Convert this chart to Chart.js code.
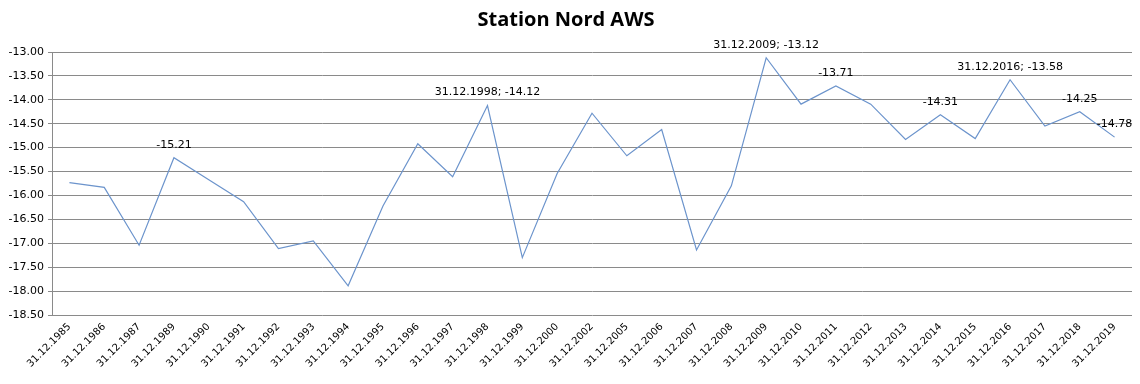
<!DOCTYPE html>
<html>
<head>
<meta charset="utf-8">
<script src="https://cdn.jsdelivr.net/npm/chart.js@4"></script>
<style>
  html, body { margin: 0; padding: 0; background: #fff; }
  #wrap { width: 1140px; height: 384px; }
</style>
</head>
<body>
<div id="wrap"><canvas id="stationChart" width="1140" height="384"></canvas></div>
<script>
const dates = ['31.12.1985', '31.12.1986', '31.12.1987', '31.12.1989', '31.12.1990', '31.12.1991',
  '31.12.1992', '31.12.1993', '31.12.1994', '31.12.1995', '31.12.1996', '31.12.1997', '31.12.1998',
  '31.12.1999', '31.12.2000', '31.12.2002', '31.12.2005', '31.12.2006', '31.12.2007', '31.12.2008',
  '31.12.2009', '31.12.2010', '31.12.2011', '31.12.2012', '31.12.2013', '31.12.2014', '31.12.2015',
  '31.12.2016', '31.12.2017', '31.12.2018', '31.12.2019'];

const temps = [-15.73, -15.83, -17.04, -15.21, -15.67, -16.13,
  -17.11, -16.95, -17.89, -16.22, -14.92, -15.61, -14.12,
  -17.30, -15.54, -14.28, -15.17, -14.62, -17.14, -15.80,
  -13.12, -14.09, -13.71, -14.09, -14.83, -14.31, -14.81,
  -13.58, -14.55, -14.25, -14.78];

// points that carry a data label, and which of them also show the date
const labelledIdx = [3, 12, 20, 22, 25, 27, 29, 30];
const labelWithDate = [12, 20, 27];

const yMin = -18.5;
const yMax = -13.0;
const yStep = 0.5;

const labelFont = '11px "DejaVu Sans", sans-serif';

// draw the Excel-style data labels above selected points
const pointLabelPlugin = {
  id: 'pointLabels',
  afterDatasetsDraw(chart) {
    const ctx = chart.ctx;
    const meta = chart.getDatasetMeta(0);
    ctx.save();
    ctx.font = labelFont;
    ctx.fillStyle = '#000';
    ctx.textAlign = 'center';
    ctx.textBaseline = 'middle';
    labelledIdx.forEach(i => {
      const pt = meta.data[i];
      let text = temps[i].toFixed(2);
      if (labelWithDate.includes(i)) text = dates[i] + '; ' + text;
      ctx.fillText(text, pt.x, pt.y - 13);
    });
    ctx.restore();
  }
};

const ctx = document.getElementById('stationChart').getContext('2d');

new Chart(ctx, {
  type: 'line',
  data: {
    labels: dates,
    datasets: [{
      label: 'Station Nord AWS',
      data: temps,
      borderColor: '#6c94cc',
      borderWidth: 1.2,
      pointRadius: 0,
      tension: 0,
      fill: false
    }]
  },
  options: {
    responsive: false,
    animation: false,
    layout: { padding: { top: 6, right: 8, left: 0, bottom: 0 } },
    plugins: {
      legend: { display: false },
      tooltip: { enabled: false },
      title: {
        display: true,
        text: 'Station Nord AWS',
        color: '#000',
        font: { family: '"Open Sans", sans-serif', size: 20, weight: 'bold' },
        padding: { top: 2, bottom: 20 }
      }
    },
    scales: {
      x: {
        offset: true,
        grid: { display: false, drawTicks: false },
        border: { display: false },
        afterFit: scale => { scale.height = 69; },
        ticks: {
          color: '#000',
          font: { family: '"DejaVu Sans", sans-serif', size: 10 },
          minRotation: 45,
          maxRotation: 45,
          autoSkip: false,
          padding: 6
        }
      },
      y: {
        min: yMin,
        max: yMax,
        grid: { color: '#8a8a8a', lineWidth: 1, tickLength: 4 },
        border: { display: true, color: '#8a8a8a' },
        afterFit: scale => { scale.width = 52; },
        ticks: {
          stepSize: yStep,
          color: '#000',
          font: { family: '"DejaVu Sans", sans-serif', size: 11 },
          padding: 4,
          callback: v => v.toFixed(2)
        }
      }
    }
  },
  plugins: [pointLabelPlugin]
});
</script>
</body>
</html>
